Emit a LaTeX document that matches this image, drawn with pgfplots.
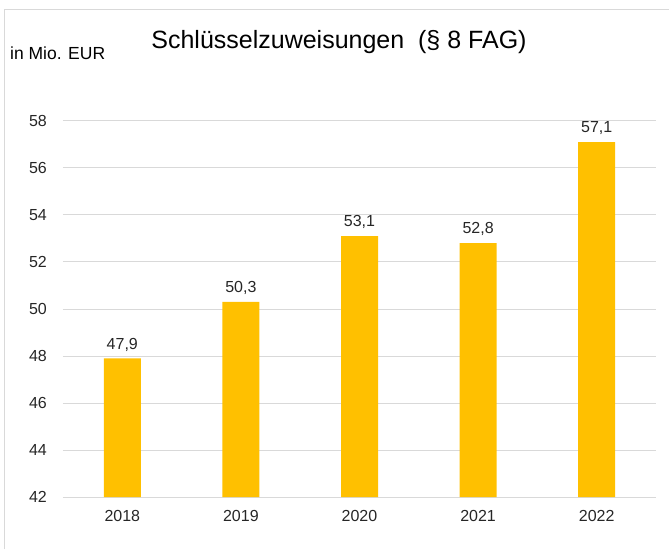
\documentclass[border=0pt]{standalone}
\usepackage{fontspec}
\setmainfont{Liberation Sans}
\usepackage{pgfplots}
\pgfplotsset{compat=1.18}
\definecolor{barc}{HTML}{FFC000}
\definecolor{gridc}{HTML}{D9D9D9}
\definecolor{framec}{HTML}{D9D9D9}
\definecolor{txt}{HTML}{262626}
\begin{document}
\begin{tikzpicture}[x=1pt,y=1pt]
\path[use as bounding box] (-63,-52) rectangle (606,497);
\draw[framec, line width=1pt] (-58,-52) -- (-58,487) -- (606,487);
\node[font=\fontsize{25}{29}\selectfont, text=black, anchor=center] at (276,455) {Schlüsselzuweisungen\ \ (§ 8 FAG)};
\node[font=\fontsize{17.5}{20}\selectfont, text=black, anchor=west, inner sep=0pt] at (-53,444) {in Mio. EUR};
\begin{axis}[
  at={(0,0)}, anchor=south west,
  scale only axis, width=593pt, height=376pt,
  ybar, bar width=37pt,
  xmin=-0.5, xmax=4.5, ymin=42, ymax=58,
  xtick={0,1,2,3,4},
  xticklabels={2018,2019,2020,2021,2022},
  ytick={42,44,...,58},
  ymajorgrids, major grid style={gridc, line width=1pt},
  axis line style={draw=none},
  major tick length=0pt,
  tick label style={font=\fontsize{16}{19}\selectfont, text=txt},
  /pgf/number format/assume math mode=true,
  yticklabel style={anchor=east, inner sep=0pt, xshift=-16pt},
  xticklabel style={anchor=north, inner sep=0pt, yshift=-13pt},
  nodes near coords,
  nodes near coords style={font=\fontsize{16}{19}\selectfont, text=txt, anchor=south, inner sep=0pt, yshift=7pt,
    /pgf/number format/.cd, use comma, fixed, fixed zerofill, precision=1, assume math mode=true},
]
\addplot[fill=barc, draw=none] coordinates {(0,47.9) (1,50.3) (2,53.1) (3,52.8) (4,57.1)};
\end{axis}
\end{tikzpicture}
\end{document}
